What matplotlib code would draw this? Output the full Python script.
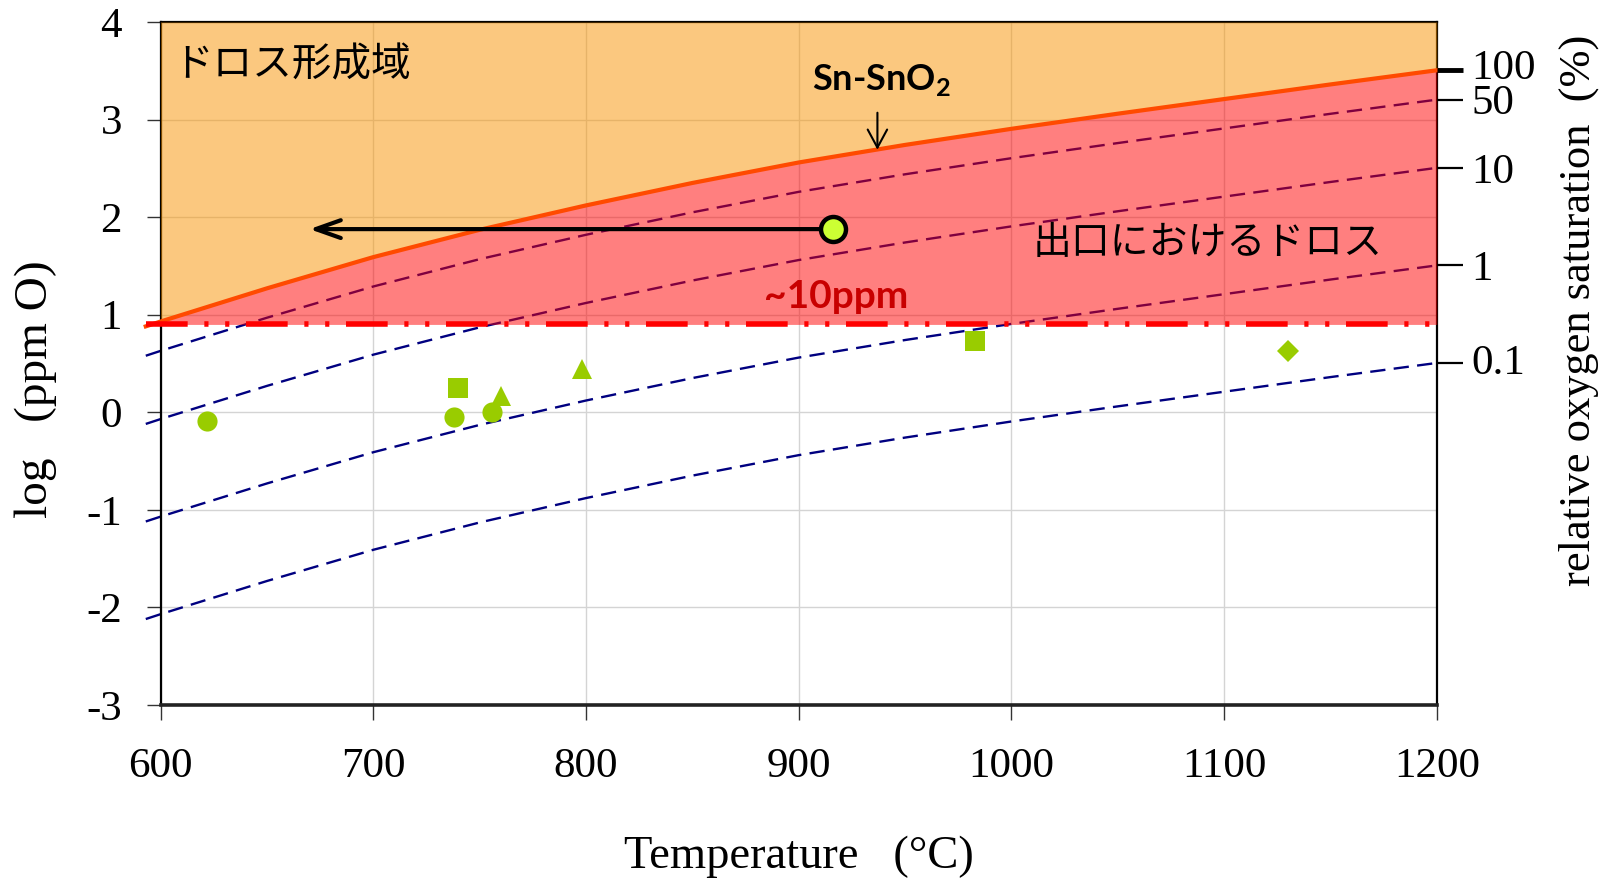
import numpy as np
import matplotlib
matplotlib.use("Agg")
import matplotlib.pyplot as plt
from matplotlib.transforms import ScaledTranslation

plt.rcParams['font.family'] = ['Liberation Serif', 'DejaVu Sans']
plt.rcParams['mathtext.fontset'] = 'custom'
plt.rcParams['mathtext.bf'] = 'Lato:bold'
plt.rcParams['mathtext.rm'] = 'Lato:bold'
plt.rcParams['lines.scale_dashes'] = False

# Sn-SnO2 equilibrium line (log ppm O vs temperature)
temps = [593, 600, 650, 700, 750, 800, 850, 900, 950, 1000, 1050, 1100, 1150, 1200]
sn_sno2 = [0.88, 0.93, 1.27, 1.59, 1.87, 2.12, 2.35, 2.56, 2.74, 2.905, 3.06, 3.21, 3.36, 3.505]

# relative saturation levels (%) drawn as dashed lines
sat_levels = [50, 10, 1, 0.1]
right_ticks = [100, 50, 10, 1, 0.1]
right_labels = ["100", "50", "10", "1", "0.1"]

dross_limit = 0.9  # ~10 ppm

# measured points
meas_circle_t = [622, 738, 756]
meas_circle_y = [-0.094, -0.05, 0.0]
meas_square_t = [740, 983]
meas_square_y = [0.248, 0.726]
meas_tri_t = [760, 798]
meas_tri_y = [0.165, 0.448]
meas_diamond_t = [1130]
meas_diamond_y = [0.628]

outlet_t = 916
outlet_y = 1.877
arrow_to_t = 670

temps = np.array(temps)
sn = np.array(sn_sno2)

fig = plt.figure(figsize=(16.18, 8.8), dpi=100)
ax = fig.add_axes([0.0993, 0.199, 0.7887, 0.776])

ax.set_xlim(600, 1200)
ax.set_ylim(-3, 4)
ax.set_xticks(range(600, 1201, 100))
ax.set_yticks(range(-3, 5))
ax.set_axisbelow(True)
ax.grid(True, color='#D4D4D4', lw=1.0)

# dashed saturation lines
for lvl in sat_levels:
    ax.plot(temps, sn + np.log10(lvl / 100), color='#000080', lw=1.7,
            dashes=(11, 6), zorder=2, clip_on=False)

# regions
ax.fill_between(temps, dross_limit, sn, where=sn >= dross_limit, interpolate=True,
                color='#FF0000', alpha=0.5, lw=0, zorder=3)
ax.fill_between(temps, sn, 4, color='#F99300', alpha=0.5, lw=0, zorder=3)

# Sn-SnO2 line
ax.plot(temps, sn, color='#FF4A00', lw=3, zorder=5, clip_on=False)

# ~10 ppm line
ax.plot([temps[0], 1200], [dross_limit, dross_limit], color='#FF0000', lw=4,
        dashes=(30, 12, 3, 12, 3, 12), solid_capstyle='butt', dash_capstyle='butt',
        zorder=6, clip_on=False)

# measured points
green = '#99CC00'
ax.plot(meas_circle_t, meas_circle_y, 'o', color=green, ms=14.5, mew=0, zorder=7)
ax.plot(meas_square_t, meas_square_y, 's', color=green, ms=14.5, mew=0, zorder=7)
ax.plot(meas_tri_t, meas_tri_y, '^', color=green, ms=15, mew=0, zorder=7)
ax.plot(meas_diamond_t, meas_diamond_y, 'D', color=green, ms=11, mew=0, zorder=7)

# outlet dross arrow
ax.annotate("", xy=(arrow_to_t, outlet_y), xytext=(outlet_t, outlet_y),
            arrowprops=dict(arrowstyle='->,head_length=0.9,head_width=0.32',
                            lw=3, color='black', mutation_scale=20,
                            shrinkA=0, shrinkB=0), zorder=8)
ax.plot([outlet_t], [outlet_y], 'o', color='#CCFF33', ms=18, mec='black', mew=3.2, zorder=9)

# Sn-SnO2 label
ax.annotate("", xy=(937, 2.69), xytext=(937, 3.07),
            arrowprops=dict(arrowstyle='->,head_length=0.65,head_width=0.35',
                            lw=1.5, color='black', mutation_scale=20,
                            shrinkA=0, shrinkB=0), zorder=8)
ax.text(939, 3.30, r'Sn-SnO$_\mathbf{2}$', fontsize=26, fontweight='bold',
        family='Lato', ha='center', va='baseline', zorder=9)

ax.text(917.4, 1.07, '~10ppm', fontsize=28, fontweight='bold', family='Lato',
        color='#C80000', ha='center', va='baseline', zorder=9)

ax.text(606, 3.55, 'ドロス形成域', fontsize=28.5, family=['Noto Sans CJK JP'],
        ha='left', va='center', zorder=9)
ax.text(1010, 1.73, '出口におけるドロス', fontsize=28, family=['Noto Sans CJK JP'],
        ha='left', va='center', zorder=9)

# spines and ticks
for s in ['left', 'right', 'top']:
    ax.spines[s].set_linewidth(1.6)
ax.spines['bottom'].set_linewidth(2.6)
ax.spines['bottom'].set_color('#222222')
ax.tick_params(axis='x', direction='out', length=11, width=1, color='#333333',
               labelsize=31, pad=20)
ax.tick_params(axis='y', direction='out', length=10, width=1, color='#333333',
               labelsize=31, pad=18)
ax.set_yticklabels([str(v) for v in range(-3, 5)])

ax2 = ax.twinx()
ax2.set_position(ax.get_position())
ax2.set_ylim(-3, 4)
ax2.set_yticks(sn[-1] + np.log10(np.array(right_ticks) / 100))
ax2.set_yticklabels(right_labels)
ax2.tick_params(axis='y', direction='out', length=19, width=1.6, labelsize=31, pad=6)
ticks2 = ax2.yaxis.get_major_ticks()
ticks2[0].tick2line.set_markeredgewidth(3.5)
for i, dy in [(0, 6), (4, 4)]:
    lbl = ticks2[i].label2
    lbl.set_transform(lbl.get_transform() + ScaledTranslation(0, dy / 100, fig.dpi_scale_trans))
for s in ax2.spines.values():
    s.set_visible(False)

fig.text(0.022, 0.558, 'log   (ppm O)', rotation=90, fontsize=34, ha='center', va='center')
fig.text(0.494, 0.026, 'Temperature   (°C)', fontsize=33.5, ha='center', va='center')
fig.text(0.976, 0.647, 'relative oxygen saturation  (%)', rotation=90, fontsize=32,
         ha='center', va='center')

fig.savefig('out.png', dpi=100)
